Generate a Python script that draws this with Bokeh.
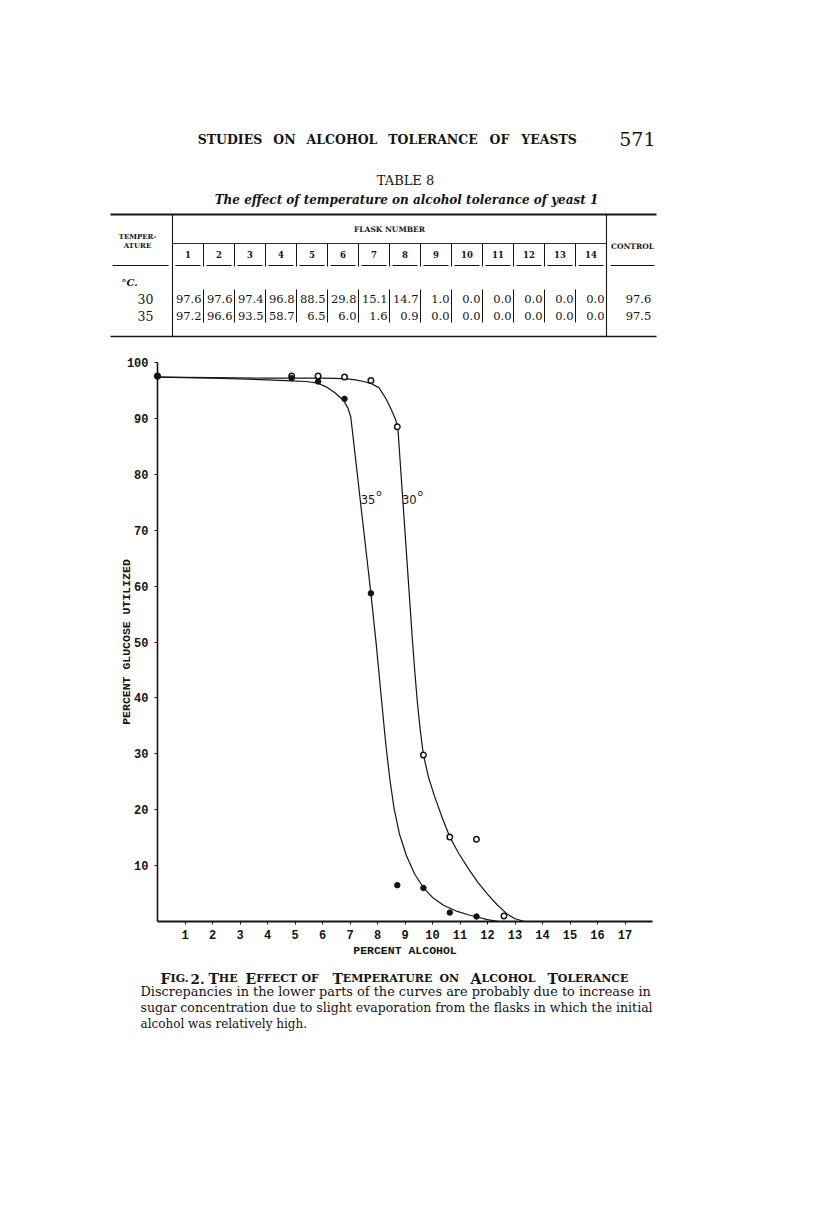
from bokeh.plotting import figure
from bokeh.models import Range1d, FixedTicker
from bokeh.core.properties import value
from bokeh.embed import file_html
from bokeh.resources import INLINE

# ---------------- data ----------------
flask_numbers = list(range(1, 15))
temperatures = ["30", "35"]
glucose_30 = [97.6, 97.6, 97.4, 96.8, 88.5, 29.8, 15.1, 14.7, 1.0, 0.0, 0.0, 0.0, 0.0, 0.0]
glucose_35 = [97.2, 96.6, 93.5, 58.7, 6.5, 6.0, 1.6, 0.9, 0.0, 0.0, 0.0, 0.0, 0.0, 0.0]
control_30 = 97.6
control_35 = 97.5

# percent alcohol of flasks 1..9; control plotted at 0
alcohol = [4.88, 5.84, 6.80, 7.76, 8.72, 9.67, 10.63, 11.60, 12.60]
control_alcohol = 0.0

# hand-drawn smooth curves
curve30_x = [0.0, 2.0, 4.0, 5.0, 6.0, 6.8, 7.2, 7.5, 7.78, 8.05, 8.3, 8.5, 8.65, 8.74,
             8.85, 9.0, 9.15, 9.27, 9.36, 9.45, 9.56, 9.67, 9.85, 10.06, 10.35, 10.63,
             10.95, 11.3, 11.65, 12.0, 12.35, 12.7, 13.0, 13.35]
curve30_y = [97.4, 97.3, 97.2, 97.2, 97.2, 97.1, 96.9, 96.6, 96.2, 95.5, 93.6, 91.6, 89.9, 88.4,
             80.4, 69.7, 58.9, 50.3, 44.5, 39.2, 34.0, 29.8, 25.9, 22.6, 18.6, 15.1,
             12.2, 9.5, 7.0, 4.9, 3.0, 1.4, 0.5, 0.0]
curve35_x = [0.0, 2.0, 4.0, 4.88, 5.4, 5.84, 6.15, 6.45, 6.77, 6.93, 7.03, 7.2, 7.4, 7.6,
             7.76, 7.95, 8.12, 8.3, 8.45, 8.6, 8.8, 9.05, 9.35, 9.68, 10.0, 10.4, 10.9,
             11.3, 11.62, 12.0, 12.4]
curve35_y = [97.4, 97.2, 96.9, 96.7, 96.6, 96.3, 95.6, 94.6, 93.2, 91.8, 90.2, 82.9, 74.2, 65.6,
             58.7, 49.8, 41.0, 31.8, 25.4, 20.3, 15.6, 11.8, 8.5, 6.0, 4.3, 2.9, 1.8,
             1.2, 0.8, 0.35, 0.0]

x_ticks = list(range(1, 18))
y_ticks = list(range(10, 101, 10))
X_MAX, Y_MAX = 18, 100

# ---------------- styling ----------------
SERIF = "DejaVu Serif"
MONO = "Liberation Mono"
INK = "#141414"

W, H = 816, 1231
# where the chart's axes sit on the page (pixels)
FL, FR, FT, FB = 157, 652, 362, 921
sx = (FR - FL) / X_MAX
sy = (FB - FT) / Y_MAX

# the frame covers the whole page; the chart's axes are fixed inside it
p = figure(width=W, height=H,
           x_range=Range1d(-FL / sx, (W - FL) / sx),
           y_range=Range1d(-(H - FB) / sy, Y_MAX + FT / sy),
           output_backend="svg", toolbar_location=None, min_border=0,
           outline_line_color=None, background_fill_color="white",
           border_fill_color="white")
p.grid.visible = False
p.extra_x_ranges = {"px": Range1d(0, W)}
p.extra_y_ranges = {"py": Range1d(H, 0)}


def txt(xs, ys, texts, size, style="normal", align="left", baseline="middle", font=SERIF):
    p.text(x=xs, y=ys, text=texts, text_font=value(font), text_font_size=value(size),
           text_font_style=style, text_align=align, text_baseline=baseline,
           text_color=INK, x_range_name="px", y_range_name="py")


def seg(x0s, y0s, x1s, y1s, width):
    p.segment(x0=x0s, y0=y0s, x1=x1s, y1=y1s, line_color=INK, line_width=width,
              x_range_name="px", y_range_name="py")


# ================= running head + table =================
head_words = ["STUDIES", "ON", "ALCOHOL", "TOLERANCE", "OF", "YEASTS"]
head_cx = [229.5, 284, 341.5, 432.5, 499, 548.5]
txt(head_cx, [139] * len(head_words), head_words, "12.5px", style="bold", align="center")
txt([655], [138], ["571"], "19px", align="right")
txt([405], [180], ["TABLE 8"], "13px", align="center")
txt([406], [199], ["The effect of temperature on alcohol tolerance of yeast 1"], "12px",
    style="bold italic", align="center")

x_left, x_first, col_w = 110, 172, 31
n_cols = len(flask_numbers)
x_ctrl = x_first + col_w * n_cols
x_right = 656

seg([x_left], [214], [x_right], [214], 1.8)
seg([x_left], [336], [x_right], [336], 1.5)
seg([x_first, x_ctrl], [214, 214], [x_first, x_ctrl], [336, 336], 1.1)
seg([x_first], [243], [x_ctrl], [243], 0.9)
inner = [x_first + col_w * i for i in range(1, n_cols)]
seg(inner, [243] * len(inner), inner, [266] * len(inner), 1.0)
seg(inner, [289] * len(inner), inner, [322] * len(inner), 1.0)
ul_x0 = [x_first + col_w * i + 3 for i in range(n_cols)] + [x_left + 2, x_ctrl + 4]
ul_x1 = [x_first + col_w * (i + 1) - 3 for i in range(n_cols)] + [x_first - 4, x_right - 2]
seg(ul_x0, [265] * len(ul_x0), ul_x1, [265] * len(ul_x0), 1.0)

txt([137, 137], [236, 245], ["TEMPER-", "ATURE"], "7px", style="bold", align="center")
txt([(x_first + x_ctrl) / 2], [229], ["FLASK NUMBER"], "7.5px", style="bold", align="center")
txt([(x_ctrl + x_right) / 2 + 1], [246], ["CONTROL"], "7.5px", style="bold", align="center")
col_cx = [x_first + col_w * i + col_w / 2 for i in range(n_cols)]
txt(col_cx, [254] * n_cols, [str(n) for n in flask_numbers], "8.5px", style="bold",
    align="center")
txt([121], [282], ["°C."], "10px", style="bold italic")

row_y = [298, 315]
txt([145, 145], row_y, temperatures, "12.5px", align="center")
col_right = [x_first + col_w * (i + 1) - 2 for i in range(n_cols)]
for vals, yy in ((glucose_30, row_y[0]), (glucose_35, row_y[1])):
    txt(col_right, [yy] * n_cols, [f"{v:.1f}" for v in vals], "11.5px", align="right")
txt([638, 638], row_y, [f"{control_30:.1f}", f"{control_35:.1f}"], "11.5px", align="center")

# ================= chart =================
for ax in (p.xaxis, p.yaxis):
    ax.fixed_location = 0
    ax.minor_tick_line_color = None
    ax.major_tick_in = 0
    ax.major_tick_out = 3
    ax.major_tick_line_color = INK
    ax.axis_line_color = INK
    ax.major_label_text_font = MONO
    ax.major_label_text_font_style = "bold"
    ax.major_label_text_font_size = "12px"
    ax.major_label_text_color = INK
    ax.axis_label_text_font = MONO
    ax.axis_label_text_font_style = "bold"
    ax.axis_label_text_font_size = "11.5px"
    ax.axis_label_text_color = INK

p.xaxis.bounds = (0, X_MAX)
p.yaxis.bounds = (0, Y_MAX)
p.xaxis.ticker = FixedTicker(ticks=x_ticks)
p.yaxis.ticker = FixedTicker(ticks=y_ticks)
p.xaxis.axis_line_width = 2
p.yaxis.axis_line_width = 1.6
p.xaxis.major_label_standoff = 5
p.yaxis.major_label_standoff = 6
p.xaxis.axis_label = "PERCENT ALCOHOL"
p.yaxis.axis_label = "PERCENT GLUCOSE UTILIZED"
p.xaxis.axis_label_standoff = 2
p.yaxis.axis_label_standoff = -9

p.line(curve30_x, curve30_y, line_color=INK, line_width=1.2)
p.line(curve35_x, curve35_y, line_color=INK, line_width=1.2)

px30 = [control_alcohol] + [a for a, v in zip(alcohol, glucose_30) if v > 0]
py30 = [control_30] + [v for a, v in zip(alcohol, glucose_30) if v > 0]
px35 = [control_alcohol] + [a for a, v in zip(alcohol, glucose_35) if v > 0]
py35 = [control_35] + [v for a, v in zip(alcohol, glucose_35) if v > 0]

p.scatter(px30, py30, marker="circle", size=5.5, fill_color="white", line_color=INK,
          line_width=1.5)
p.scatter(px35, py35, marker="circle", size=5.5, fill_color=INK, line_color=INK)

p.text(x=[7.39, 8.89], y=[75.5, 75.5], text=["35", "30"], text_font=value("DejaVu Sans"),
       text_font_size=value("11.5px"), text_align="left", text_baseline="middle",
       text_color=INK)
p.text(x=[7.95, 9.45], y=[76.6, 76.6], text=["o", "o"], text_font=value("DejaVu Sans"),
       text_font_size=value("9px"), text_align="left", text_baseline="middle",
       text_color=INK)

# ================= caption =================
base = 978
cap_w = {"F": 9.6, "T": 9.8, "E": 10.2, "A": 10.6}
words = [("FIG.", 160, True), ("THE", 208, True), ("EFFECT", 245, True),
         ("OF", 301, False), ("TEMPERATURE", 332, True), ("ON", 439, False),
         ("ALCOHOL", 470, True), ("TOLERANCE", 547, True)]
for w, x0, cap in words:
    if cap:
        txt([x0], [base], [w[0]], "14px", style="bold", baseline="alphabetic")
        txt([x0 + cap_w[w[0]] + 0.5], [base], [w[1:]], "11px", style="bold",
            baseline="alphabetic")
    else:
        txt([x0], [base], [w], "11px", style="bold", baseline="alphabetic")
txt([190], [base], ["2."], "13.5px", style="bold", baseline="alphabetic")

para = ["Discrepancies in the lower parts of the curves are probably due to increase in",
        "sugar concentration due to slight evaporation from the flasks in which the initial",
        "alcohol was relatively high."]
para_size = ["12.9px", "12.5px", "12px"]
for line, yy, sz in zip(para, [991, 1007, 1023], para_size):
    txt([140], [yy], [line], sz)

open("out.html", "w").write(file_html(p, INLINE))
